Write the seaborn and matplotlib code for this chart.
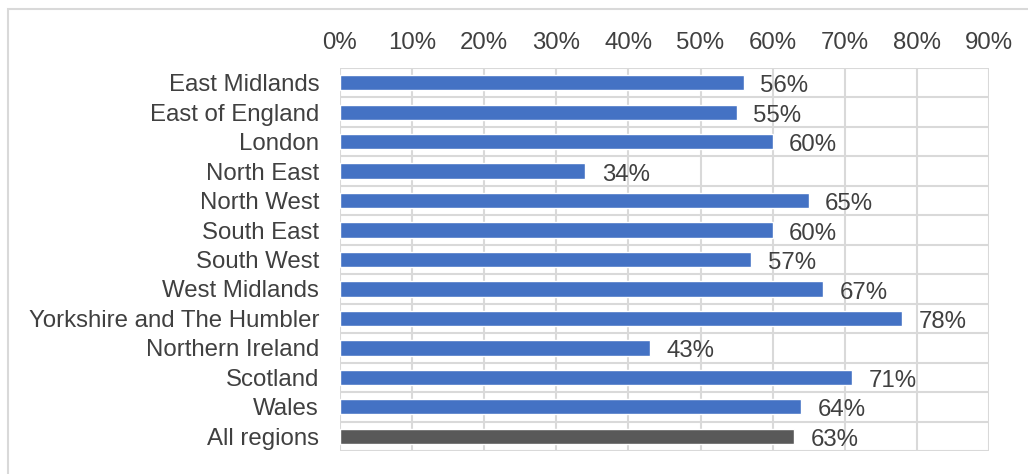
import matplotlib
matplotlib.use("Agg")
import matplotlib.pyplot as plt
from matplotlib.patches import Rectangle
import seaborn as sns
import pandas as pd

regions = ["East Midlands", "East of England", "London", "North East", "North West",
           "South East", "South West", "West Midlands", "Yorkshire and The Humbler",
           "Northern Ireland", "Scotland", "Wales", "All regions"]
shares = [56, 55, 60, 34, 65, 60, 57, 67, 78, 43, 71, 64, 63]
tick_values = [0, 10, 20, 30, 40, 50, 60, 70, 80, 90]

BLUE = "#4472C4"
DARK = "#595959"
TEXT = "#404040"
GRID = "#D9D9D9"

sns.set_theme(style="white")
plt.rcParams["font.family"] = ["Liberation Sans", "DejaVu Sans"]

df = pd.DataFrame({"region": regions, "share": shares})
palette = {r: (DARK if r == "All regions" else BLUE) for r in regions}

fig = plt.figure(figsize=(10.28, 4.74), dpi=100)
ax = fig.add_axes([0.3307, 0.0485, 0.962 - 0.3307, 0.8565 - 0.0485])

sns.barplot(data=df, y="region", x="share", hue="region", palette=palette,
            order=regions, width=0.52, legend=False, ax=ax, saturation=1)

ax.set_xlim(0, 90)
ax.set_ylim(len(regions) - 0.5, -0.5)
ax.set_xticks(tick_values)
ax.set_xticklabels([f"{v}%" for v in tick_values])
ax.xaxis.tick_top()
ax.set_xlabel("")
ax.set_ylabel("")

# Grid: vertical lines at the ticks, horizontal lines between categories
for v in tick_values:
    ax.axvline(v, color=GRID, lw=1.5, zorder=0)
for i in range(len(regions) + 1):
    ax.axhline(i - 0.5, color=GRID, lw=1.5, zorder=0)
for s in ax.spines.values():
    s.set_visible(False)

ax.tick_params(axis="both", length=0, labelsize=17.3, colors=TEXT)
ax.tick_params(axis="x", pad=10)
ax.tick_params(axis="y", pad=15)

for i, v in enumerate(shares):
    ax.text(v + 2.3, i + 0.12, f"{v}%", va="center", ha="left", fontsize=17.3, color=TEXT)

# Outer chart border
fig.patches.append(Rectangle((8 / 1028, -0.1), 1.2, 1 - 9 / 474 + 0.1,
                             transform=fig.transFigure, fill=False,
                             edgecolor=GRID, lw=1.5))

fig.savefig("out.png", dpi=100)
